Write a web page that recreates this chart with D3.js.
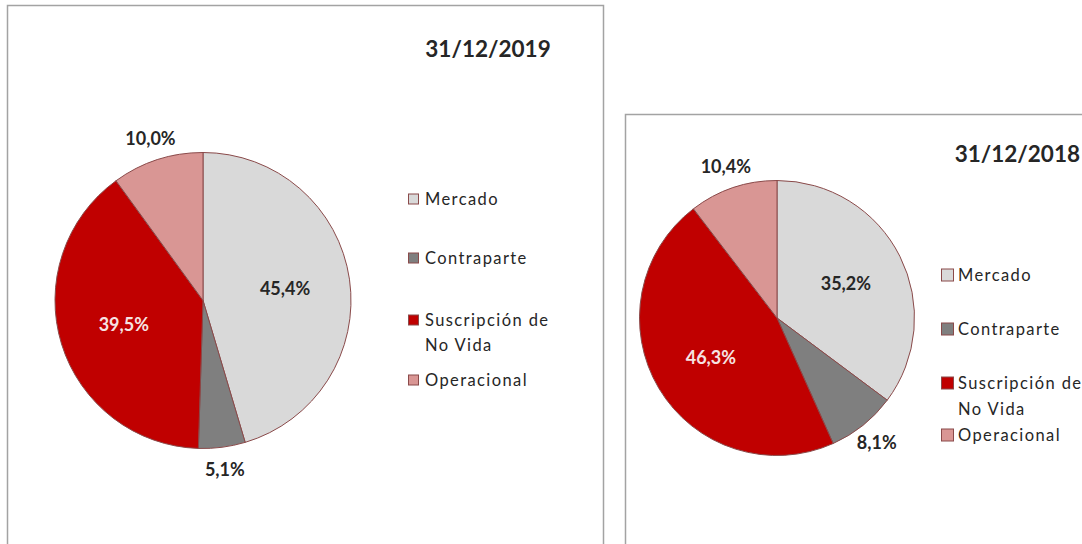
<!DOCTYPE html>
<html>
<head>
<meta charset="utf-8">
<script src="https://cdn.jsdelivr.net/npm/d3@7"></script>
<style>
  html, body { margin: 0; padding: 0; background: #fff; }
  svg { display: block; }
</style>
</head>
<body>
<div id="drawing"></div>
<script>
const WIDTH  = 1082;
const HEIGHT = 544;

// Data
const CATEGORIES  = ['Mercado', 'Contraparte', 'Suscripción de No Vida', 'Operacional'];
const LEGEND_ROWS = [['Mercado'], ['Contraparte'], ['Suscripción de', 'No Vida'], ['Operacional']];
const DATES       = ['31/12/2019', '31/12/2018'];
const VALUES_2019 = [45.4, 5.1, 39.5, 10.0];
const VALUES_2018 = [35.2, 8.1, 46.3, 10.4];

const COLORS = {
  slices:  ['#d9d9d9', '#7f7f7f', '#c00000', '#d99694'],
  stroke:  '#8a4a4a',
  frame:   '#a3a3a3',
  text:    '#262626',
  light:   '#f6e3e2'
};

const FONT = 'Lato, "Open Sans", sans-serif';

// Layout of the two charts
const PANELS = [
  {
    values: VALUES_2019, date: DATES[0],
    frame:  { x: 7.5, y: 5.5, w: 596, h: 560 },
    cx: 203, cy: 300.5, r: 148,
    title:  { x: 488, y: 49, anchor: 'middle' },
    legend: { x: 408, text: 425, box: 11, rows: [199, 258, 320, 380], lead: 25 }
  },
  {
    values: VALUES_2018, date: DATES[1],
    frame:  { x: 625.5, y: 114.5, w: 480, h: 450 },
    cx: 777, cy: 318, r: 137.5,
    title:  { x: 1080, y: 154, anchor: 'end' },
    legend: { x: 941, text: 958, box: 13, rows: [275, 329, 383, 435], lead: 26 }
  }
];

var locale = d3.formatLocale({ decimal: ',', thousands: '.', grouping: [3], currency: ['', '€'] });
var fmt = locale.format('.1f');

var svg = d3.select('#drawing').append('svg')
  .attr('width', WIDTH)
  .attr('height', HEIGHT)
  .style('background-color', '#fff');

var pie = d3.pie()
  .sort(null)
  .value(d => d);

PANELS.forEach(function(p) {
  let g = svg.append('g');

  // Chart frame
  g.append('rect')
    .attr('x', p.frame.x)
    .attr('y', p.frame.y)
    .attr('width', p.frame.w)
    .attr('height', p.frame.h)
    .style('fill', '#fff')
    .style('stroke', COLORS.frame)
    .style('stroke-width', 1.5);

  // Title
  g.append('text')
    .attr('x', p.title.x)
    .attr('y', p.title.y)
    .attr('dy', '0.36em')
    .attr('text-anchor', p.title.anchor)
    .attr('font-family', FONT)
    .attr('font-weight', 'bold')
    .attr('font-size', 22.5)
    .style('fill', COLORS.text)
    .text(p.date);

  let arc = d3.arc()
    .innerRadius(0)
    .outerRadius(p.r);
  let inner = d3.arc()
    .innerRadius(p.r * 0.56)
    .outerRadius(p.r * 0.56);
  let outer = d3.arc()
    .innerRadius(p.r + 22)
    .outerRadius(p.r + 22);

  let slices = g.append('g')
    .attr('transform', `translate(${p.cx},${p.cy})`);

  let arcs = pie(p.values);

  slices.selectAll('.slice')
      .data(arcs)
    .enter().append('path')
      .attr('class', 'slice')
      .attr('d', arc)
      .style('fill', (d, i) => COLORS.slices[i])
      .style('stroke', COLORS.stroke)
      .style('stroke-width', 1);

  // Data labels: big slices inside, small ones outside
  slices.selectAll('.label')
      .data(arcs)
    .enter().append('text')
      .attr('class', 'label')
      .attr('transform', d => `translate(${(d.data < 15 ? outer : inner).centroid(d)})`)
      .attr('dy', '0.36em')
      .attr('text-anchor', 'middle')
      .attr('font-family', FONT)
      .attr('font-weight', 'bold')
      .attr('font-size', 18)
      .style('fill', (d, i) => i === 2 ? COLORS.light : COLORS.text)
      .text(d => fmt(d.data) + '%');

  // Legend
  let legend = g.selectAll('.legend')
      .data(LEGEND_ROWS)
    .enter().append('g')
      .attr('class', 'legend')
      .attr('transform', (d, i) => `translate(0,${p.legend.rows[i]})`);

  legend.append('rect')
    .attr('x', p.legend.x + 0.5)
    .attr('y', -p.legend.box / 2 + 0.5)
    .attr('width', p.legend.box - 1)
    .attr('height', p.legend.box - 1)
    .style('fill', (d, i) => COLORS.slices[i])
    .style('stroke', COLORS.stroke)
    .style('stroke-width', 1);

  legend.each(function(lines) {
    let t = d3.select(this).append('text')
      .attr('font-family', FONT)
      .attr('font-size', 16.5)
      .attr('letter-spacing', 1.4)
      .style('fill', COLORS.text);
    lines.forEach(function(line, j) {
      t.append('tspan')
        .attr('x', p.legend.text)
        .attr('y', j * p.legend.lead)
        .attr('dy', '0.36em')
        .text(line);
    });
  });
});
</script>
</body>
</html>
